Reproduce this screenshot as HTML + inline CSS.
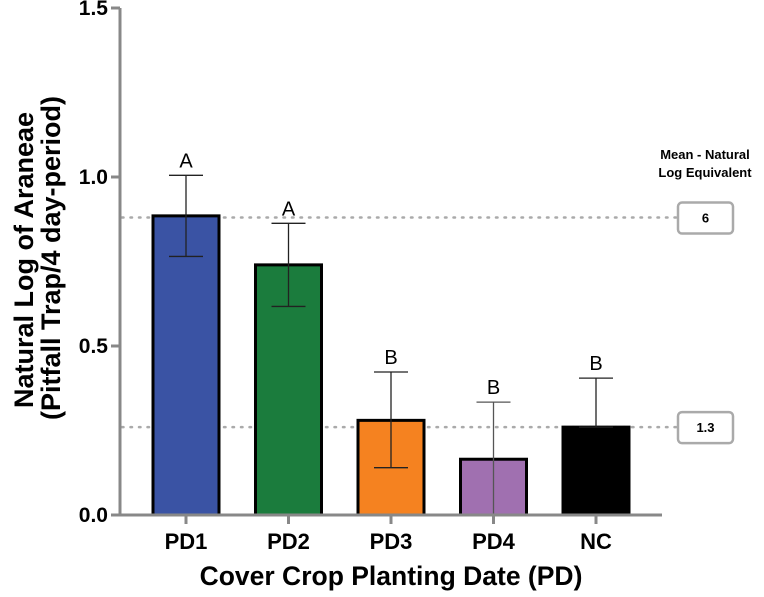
<!DOCTYPE html>
<html><head><meta charset="utf-8"><style>
body{margin:0;background:#fff}
svg text{font-family:"Liberation Sans",Arial,sans-serif}
</style></head><body>
<svg id="chart" width="764" height="592" viewBox="0 0 764 592" xmlns="http://www.w3.org/2000/svg">
<g id="refs"></g>
<g id="bars"></g>
<g id="axes"></g>
<text transform="translate(33,260) rotate(-90)" text-anchor="middle" font-size="27" font-weight="bold">Natural Log of Araneae</text>
<text transform="translate(60,258) rotate(-90)" text-anchor="middle" font-size="27" font-weight="bold">(Pitfall Trap/4 day-period)</text>
<text x="391" y="585" text-anchor="middle" font-size="26.5" font-weight="bold">Cover Crop Planting Date (PD)</text>
<text x="705" y="159" text-anchor="middle" font-size="13" font-weight="bold">Mean -  Natural</text>
<text x="705" y="177" text-anchor="middle" font-size="13" font-weight="bold">Log Equivalent</text>
</svg>
<script>
const categories=["PD1","PD2","PD3","PD4","NC"];
const means=[0.885,0.74,0.28,0.165,0.26];
const errLow=[0.765,0.617,0.14,0.0,0.26];
const errHigh=[1.005,0.863,0.423,0.334,0.405];
const letters=["A","A","B","B","B"];
const colors=["#3a53a4","#1b7c3d","#f58220","#a070b0","#000000"];
const yTicks=[0,0.5,1.0,1.5];
const yTickLabels=["0.0","0.5","1.0","1.5"];
const refValues=[0.88,0.26];
const refLabels=["6","1.3"];
const NS="http://www.w3.org/2000/svg";
const y0=515,y1=8,vmax=1.5,xL=120,xR=662;
const Y=v=>y0-(v/vmax)*(y0-y1);
const X=i=>186+i*102.5;
function mk(t,a,p){const e=document.createElementNS(NS,t);for(const k in a)e.setAttribute(k,a[k]);p.appendChild(e);return e;}
const refs=document.getElementById('refs'),bars=document.getElementById('bars'),axes=document.getElementById('axes');
refValues.forEach((v,i)=>{
  const l=mk('line',{x1:122,x2:676,y1:Y(v),y2:Y(v),stroke:'#aaa','stroke-width':2.5,'stroke-dasharray':'1.5 7','stroke-linecap':'round'},refs);
  
  
  const r=mk('rect',{x:678,y:Y(v)-15,width:55,height:31,rx:4,fill:'#fff',stroke:'#aaa','stroke-width':2.5},refs);
  
  
  const t=mk('text',{x:705.5,y:Y(v)+5,'text-anchor':'middle','font-size':13,'font-weight':'bold'},refs);
  t.textContent=refLabels[i];
  
  
});
categories.forEach((c,i)=>{
  const cx=X(i),w=66;
  const b=mk('rect',{x:cx-w/2,y:Y(means[i]),width:w,height:y0-Y(means[i]),fill:colors[i],stroke:'#000','stroke-width':3},bars);
  
  
  const eg=mk('g',{stroke:i==3?'#555':'#222','stroke-width':1.3},bars);
  
  
  mk('line',{x1:cx,x2:cx,y1:Y(errLow[i]),y2:Y(errHigh[i])},eg);
  mk('line',{x1:cx-17,x2:cx+17,y1:Y(errHigh[i]),y2:Y(errHigh[i])},eg);
  mk('line',{x1:cx-17,x2:cx+17,y1:Y(errLow[i]),y2:Y(errLow[i])},eg);
  const lt=mk('text',{x:cx,y:Y(errHigh[i])-8,'text-anchor':'middle','font-size':20},bars);
  lt.textContent=letters[i];
  
  
  mk('line',{x1:cx,x2:cx,y1:y0,y2:y0+9,stroke:'#888','stroke-width':3},axes);
  const xl=mk('text',{x:cx,y:549,'text-anchor':'middle','font-size':22,'font-weight':'bold'},axes);
  xl.textContent=c;
  
  
});
const ya=mk('line',{x1:xL,x2:xL,y1:y1,y2:y0+1.5,stroke:'#888','stroke-width':3},axes);


const xa=mk('line',{x1:xL-1.5,x2:xR,y1:y0,y2:y0,stroke:'#888','stroke-width':3},axes);


yTicks.forEach((v,i)=>{
  mk('line',{x1:xL-9,x2:xL,y1:Y(v),y2:Y(v),stroke:'#888','stroke-width':3},axes);
  const t=mk('text',{x:xL-12,y:Y(v)+7,'text-anchor':'end','font-size':21,'font-weight':'bold'},axes);
  t.textContent=yTickLabels[i];
  
  
});
</script>
</body></html>
